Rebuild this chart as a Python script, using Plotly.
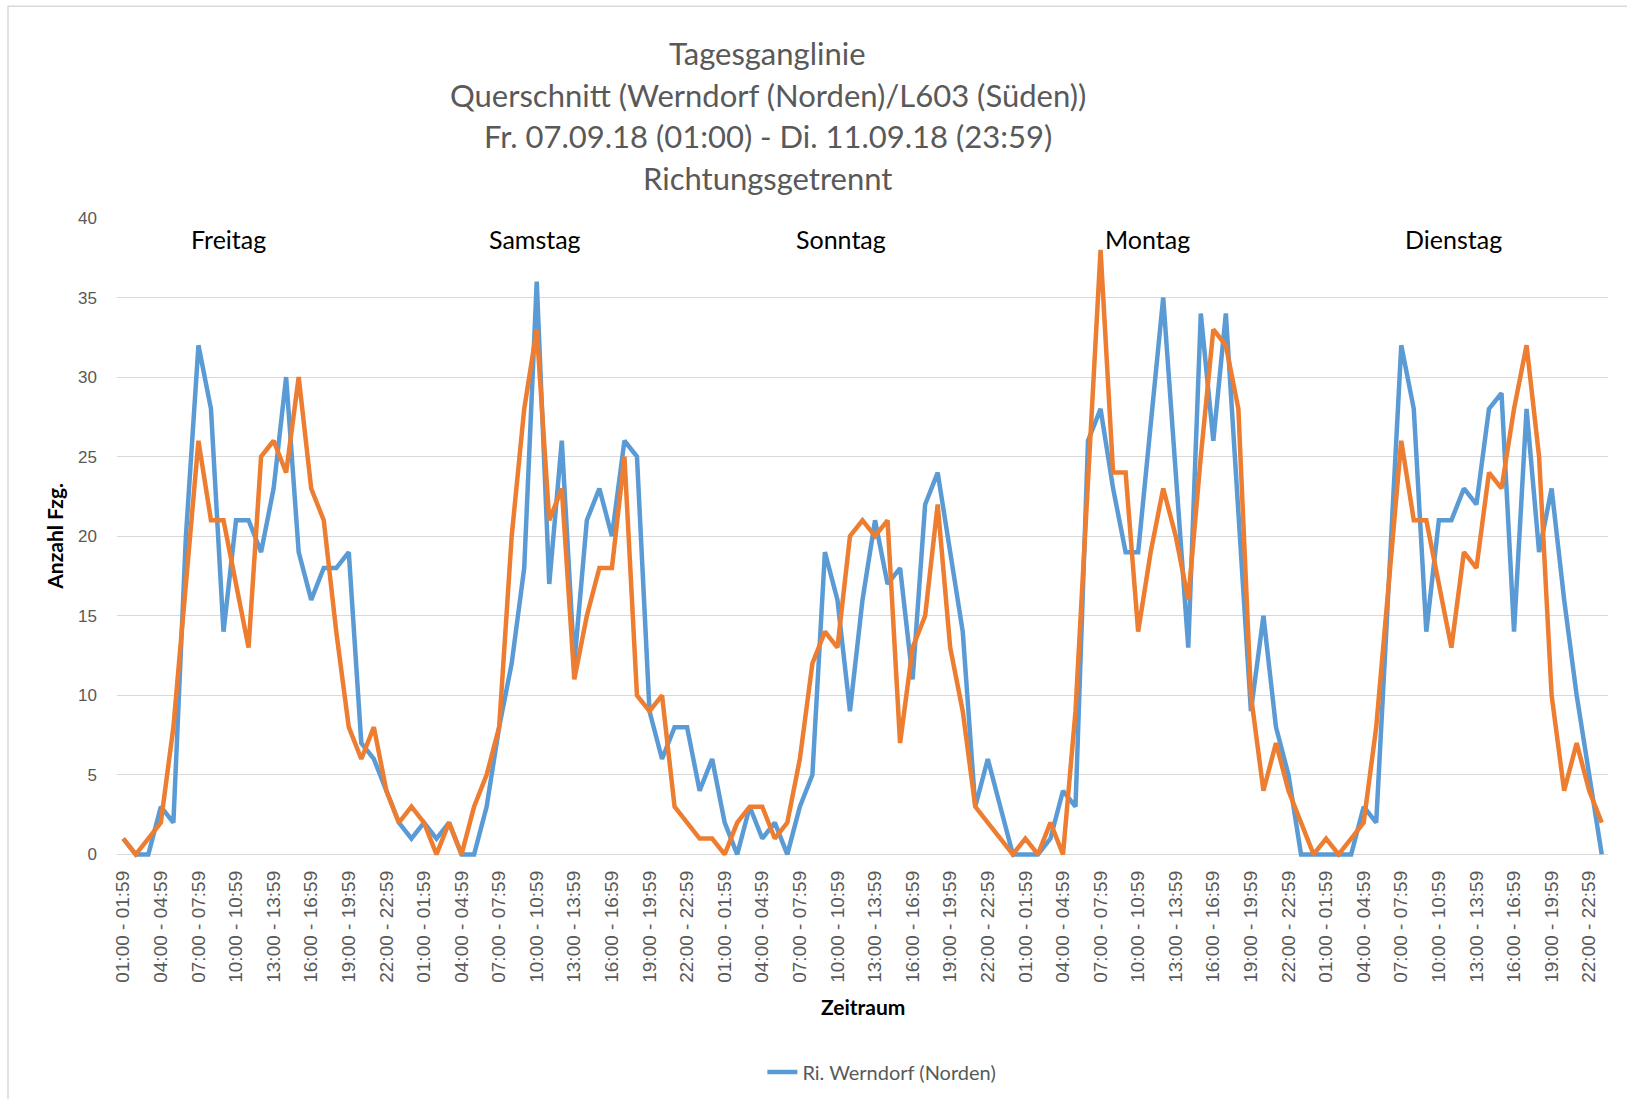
import plotly.graph_objects as go

# Stundenwerte Fr. 07.09.18 01:00 bis Di. 11.09.18 23:00 (119 Stunden)
wochentage = ["Freitag", "Samstag", "Sonntag", "Montag", "Dienstag"]
stunden = [f"{h:02d}:00 - {h:02d}:59" for h in range(24)]
zeitraum = stunden[1:] + stunden * 4

ri_werndorf = [
    1, 0, 0, 3, 2, 20, 32, 28, 14, 21, 21, 19, 23, 30, 19, 16, 18, 18, 19, 7, 6, 4, 2,
    1, 2, 1, 2, 0, 0, 3, 8, 12, 18, 36, 17, 26, 12, 21, 23, 20, 26, 25, 9, 6, 8, 8, 4,
    6, 2, 0, 3, 1, 2, 0, 3, 5, 19, 16, 9, 16, 21, 17, 18, 11, 22, 24, 19, 14, 3, 6, 3,
    0, 0, 0, 1, 4, 3, 26, 28, 23, 19, 19, 27, 35, 24, 13, 34, 26, 34, 22, 9, 15, 8, 5, 0,
    0, 0, 0, 0, 3, 2, 17, 32, 28, 14, 21, 21, 23, 22, 28, 29, 14, 28, 19, 23, 16, 10, 5, 0,
]
ri_l603 = [
    1, 0, 1, 2, 8, 17, 26, 21, 21, 17, 13, 25, 26, 24, 30, 23, 21, 14, 8, 6, 8, 4, 2,
    3, 2, 0, 2, 0, 3, 5, 8, 20, 28, 33, 21, 23, 11, 15, 18, 18, 25, 10, 9, 10, 3, 2, 1,
    1, 0, 2, 3, 3, 1, 2, 6, 12, 14, 13, 20, 21, 20, 21, 7, 13, 15, 22, 13, 9, 3, 2, 1,
    0, 1, 0, 2, 0, 9, 23, 38, 24, 24, 14, 19, 23, 20, 16, 25, 33, 32, 28, 10, 4, 7, 4, 2,
    0, 1, 0, 1, 2, 8, 17, 26, 21, 21, 17, 13, 19, 18, 24, 23, 28, 32, 25, 10, 4, 7, 4, 2,
]
titel = [
    "Tagesganglinie",
    "Querschnitt (Werndorf (Norden)/L603 (Süden))",
    "Fr. 07.09.18 (01:00) - Di. 11.09.18 (23:59)",
    "Richtungsgetrennt",
]

x = list(range(len(zeitraum)))
grau = "#595959"

fig = go.Figure()
fig.add_trace(go.Scatter(
    x=x, y=ri_werndorf, mode="lines", name="Ri. Werndorf (Norden)",
    line=dict(color="#5B9BD5", width=4.5)))
fig.add_trace(go.Scatter(
    x=x, y=ri_l603, mode="lines", name="Ri. L603 (Süden)", showlegend=False,
    line=dict(color="#ED7D31", width=4.5)))

annotations = []
for i, zeile in enumerate(titel):
    annotations.append(dict(
        text=zeile, xref="paper", yref="paper", x=0.4366, y=1.2564 - i * 0.0645,
        xanchor="center", yanchor="middle", showarrow=False,
        font=dict(family="Lato", size=31, color=grau)))
for k, tag in enumerate(wochentage):
    annotations.append(dict(
        text=tag, x=8.4 + 24.45 * k, y=38.7, xanchor="center", yanchor="middle",
        showarrow=False, font=dict(family="Lato", size=25, color="black")))
annotations.append(dict(
    text="<b>Zeitraum</b>", xref="paper", yref="paper", x=0.5, y=-0.228,
    xanchor="center", yanchor="middle",
    showarrow=False, font=dict(family="Lato", size=21, color="black")))
annotations.append(dict(
    text="<b>Anzahl Fzg.</b>", xref="paper", yref="paper", x=-0.0416, y=0.505,
    xanchor="center", yanchor="middle",
    textangle=-90, showarrow=False, font=dict(family="Lato", size=21, color="black")))

fig.update_layout(
    width=1627, height=1099,
    margin=dict(l=117, r=19, t=218, b=239),
    paper_bgcolor="white", plot_bgcolor="white",
    annotations=annotations,
    showlegend=True,
    legend=dict(orientation="h", x=0.513, xanchor="center",
                yref="container", y=0.0246, yanchor="middle",
                font=dict(family="Lato", size=20, color=grau)),
    shapes=[dict(type="rect", xref="paper", yref="paper",
                 x0=-0.0731, x1=1.2, y0=-0.6, y1=1.33,
                 line=dict(color="#D9D9D9", width=1.5), layer="below")],
    xaxis=dict(
        range=[-0.5, len(zeitraum) - 0.5],
        tickvals=x[::3], ticktext=zeitraum[::3], tickangle=-90,
        showgrid=False, zeroline=False, showline=False, ticks="",
        ticklabelstandoff=6,
        tickfont=dict(family="Liberation Sans", size=19, color=grau)),
    yaxis=dict(
        range=[-0.35, 40], tick0=0, dtick=5,
        showgrid=True, gridcolor="#D9D9D9", gridwidth=1.3,
        zeroline=False, showline=False, ticks="",
        ticklabelstandoff=19,
        tickfont=dict(family="Liberation Sans", size=17, color=grau)),
)

fig.write_html("out.html", config={"displayModeBar": False},
               post_script="document.body.style.margin='0';")
